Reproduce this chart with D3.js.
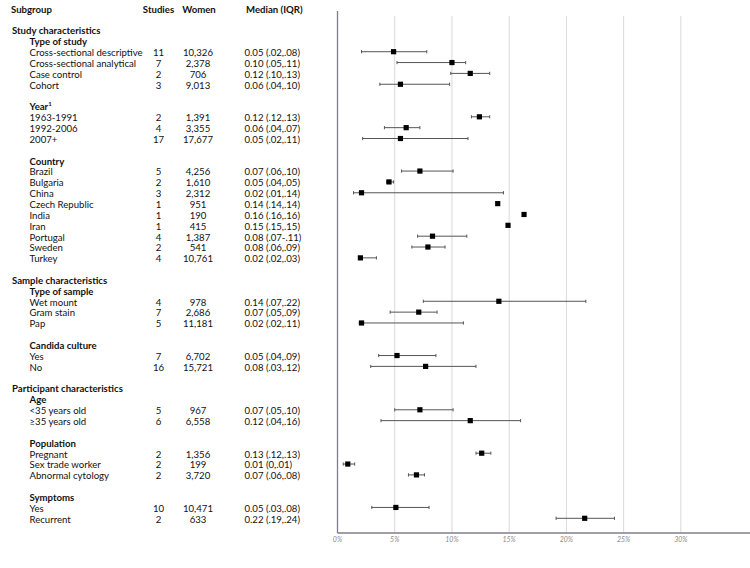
<!DOCTYPE html>
<html><head><meta charset="utf-8">
<script src="https://cdn.jsdelivr.net/npm/d3@7"></script>
<style>
html,body{margin:0;padding:0;background:#fff;}
svg{display:block;}
text{font-family:Lato,"Open Sans",sans-serif;fill:#111;}
</style></head>
<body>
<svg id="chart" width="750" height="568"></svg>
<script>
// ---- data ----
const headers = ["Subgroup", "Studies", "Women", "Median (IQR)"];
const rowLabels = [
  "Study characteristics","Type of study","Cross-sectional descriptive","Cross-sectional analytical","Case control","Cohort","",
  "Year","1963-1991","1992-2006","2007+","",
  "Country","Brazil","Bulgaria","China","Czech Republic","India","Iran","Portugal","Sweden","Turkey","",
  "Sample characteristics","Type of sample","Wet mount","Gram stain","Pap","",
  "Candida culture","Yes","No","",
  "Participant characteristics","Age","<35 years old","≥35 years old","",
  "Population","Pregnant","Sex trade worker","Abnormal cytology","",
  "Symptoms","Yes","Recurrent"
];
// 0 = section, 1 = subheading, 2 = item, -1 = blank
const rowLevels = [
  0,1,2,2,2,2,-1,
  1,2,2,2,-1,
  1,2,2,2,2,2,2,2,2,2,-1,
  0,1,2,2,2,-1,
  1,2,2,-1,
  0,1,2,2,-1,
  1,2,2,2,-1,
  1,2,2
];
const studies = [11,7,2,3, 2,4,17, 5,2,3,1,1,1,4,2,4, 4,7,5, 7,16, 5,6, 2,2,2, 10,2];
const women = [10326,2378,706,9013, 1391,3355,17677, 4256,1610,2312,951,190,415,1387,541,10761, 978,2686,11181, 6702,15721, 967,6558, 1356,199,3720, 10471,633];
const medianIQR = ["0.05 (.02,.08)","0.10 (.05,.11)","0.12 (.10,.13)","0.06 (.04,.10)",
  "0.12 (.12,.13)","0.06 (.04,.07)","0.05 (.02,.11)",
  "0.07 (.06,.10)","0.05 (.04,.05)","0.02 (.01,.14)","0.14 (.14,.14)","0.16 (.16,.16)","0.15 (.15,.15)","0.08 (.07-.11)","0.08 (.06,.09)","0.02 (.02,.03)",
  "0.14 (.07,.22)","0.07 (.05,.09)","0.02 (.02,.11)",
  "0.05 (.04,.09)","0.08 (.03,.12)",
  "0.07 (.05,.10)","0.12 (.04,.16)",
  "0.13 (.12,.13)","0.01 (0,.01)","0.07 (.06,.08)",
  "0.05 (.03,.08)","0.22 (.19,.24)"];
const estimate = [0.049,0.100,0.116,0.055, 0.124,0.060,0.055, 0.072,0.045,0.021,0.140,0.163,0.149,0.083,0.079,0.020, 0.141,0.071,0.021, 0.052,0.077, 0.072,0.116, 0.126,0.009,0.069, 0.051,0.216];
const lower    = [0.021,0.052,0.099,0.037, 0.117,0.041,0.022, 0.056,0.043,0.014,0.140,0.163,0.149,0.070,0.065,0.019, 0.075,0.046,0.019, 0.036,0.029, 0.050,0.038, 0.121,0.005,0.062, 0.030,0.191];
const upper    = [0.078,0.112,0.133,0.098, 0.133,0.072,0.114, 0.101,0.049,0.145,0.140,0.163,0.149,0.113,0.094,0.034, 0.217,0.087,0.110, 0.086,0.121, 0.101,0.160, 0.134,0.015,0.076, 0.080,0.242];
const tickValues = [0,0.05,0.10,0.15,0.20,0.25,0.30];
const tickLabels = ["0%","5%","10%","15%","20%","25%","30%"];

// ---- layout ----
const svg = d3.select("#chart");
const FS = 9.6;
const y = d3.scaleLinear().domain([0, 47]).range([9.3, 519.3]); // row index -> y
const x = d3.scaleLinear().domain([0, 0.36]).range([337.5, 749.5]);
const plotTop = 11, plotBottom = 533, gridTop = 16;
const colX = {label0: 12, label1: 29.5, studies: 158.5, women: 198, median: 244.5};

// header
const hdr = svg.append("g").attr("font-weight", 700).attr("font-size", FS);
hdr.append("text").attr("x", 11).attr("y", y(0)).attr("dy", "0.35em").text(headers[0]);
hdr.append("text").attr("x", colX.studies).attr("y", y(0)).attr("dy", "0.35em").attr("text-anchor","middle").text(headers[1]);
hdr.append("text").attr("x", colX.women + 1).attr("y", y(0)).attr("dy", "0.35em").attr("text-anchor","middle").text(headers[2]);
hdr.append("text").attr("x", colX.median + 1.5).attr("y", y(0)).attr("dy", "0.35em").text(headers[3]);

// rows
const rows = rowLabels.map((l, i) => ({label: l, level: rowLevels[i], idx: i + 2}));
let k = 0;
rows.forEach(r => { if (r.level === 2) r.item = k++; });

const tg = svg.append("g").attr("font-size", FS);
rows.filter(r => r.level >= 0).forEach(r => {
  const t = tg.append("text")
    .attr("x", r.level === 0 ? colX.label0 : colX.label1)
    .attr("y", y(r.idx)).attr("dy", "0.35em")
    .attr("font-weight", r.level < 2 ? 700 : 400);
  if (r.label === "Year") {
    t.text("Year");
    t.append("tspan").attr("font-size", 6).attr("dy", "-4").text("1");
  } else t.text(r.label);
  if (r.level === 2) {
    const i = r.item;
    tg.append("text").attr("x", colX.studies).attr("y", y(r.idx)).attr("dy","0.35em")
      .attr("text-anchor","middle").text(studies[i]);
    tg.append("text").attr("x", colX.women).attr("y", y(r.idx)).attr("dy","0.35em")
      .attr("text-anchor","middle").text(d3.format(",")(women[i]));
    tg.append("text").attr("x", colX.median).attr("y", y(r.idx)).attr("dy","0.35em")
      .text(medianIQR[i]);
  }
});

// gridlines
svg.append("g").selectAll("line").data(tickValues.slice(1)).join("line")
  .attr("x1", d => x(d)).attr("x2", d => x(d))
  .attr("y1", gridTop).attr("y2", plotBottom)
  .attr("stroke", "#d9d9d9").attr("stroke-width", 1);

// axis lines
svg.append("line").attr("x1", x(0)).attr("x2", x(0)).attr("y1", plotTop).attr("y2", plotBottom)
  .attr("stroke", "#7f7f8c").attr("stroke-width", 1.3);
svg.append("line").attr("x1", x(0)).attr("x2", 750).attr("y1", plotBottom).attr("y2", plotBottom)
  .attr("stroke", "#7f7f8c").attr("stroke-width", 1.3);

// tick labels
svg.append("g").selectAll("text").data(tickValues).join("text")
  .attr("x", d => x(d)).attr("y", 540).attr("dy", "0.35em")
  .attr("text-anchor", "middle").attr("font-size", 7).attr("font-style", "italic")
  .style("fill", "#8a8a8a")
  .text((d, i) => tickLabels[i]);

// error bars & markers
const items = rows.filter(r => r.level === 2);
const mg = svg.append("g");
items.forEach(r => {
  const i = r.item, cy = y(r.idx) - 1;
  if (upper[i] > lower[i]) {
    mg.append("line").attr("x1", x(lower[i])).attr("x2", x(upper[i])).attr("y1", cy).attr("y2", cy)
      .attr("stroke", "#555").attr("stroke-width", 1);
    [lower[i], upper[i]].forEach(v => {
      mg.append("line").attr("x1", x(v)).attr("x2", x(v)).attr("y1", cy - 1.6).attr("y2", cy + 1.6)
        .attr("stroke", "#555").attr("stroke-width", 1);
    });
  }
  mg.append("rect").attr("x", x(estimate[i]) - 2.6).attr("y", cy - 2.6)
    .attr("width", 5.2).attr("height", 5.2).attr("fill", "#000");
});
</script>
</body></html>
